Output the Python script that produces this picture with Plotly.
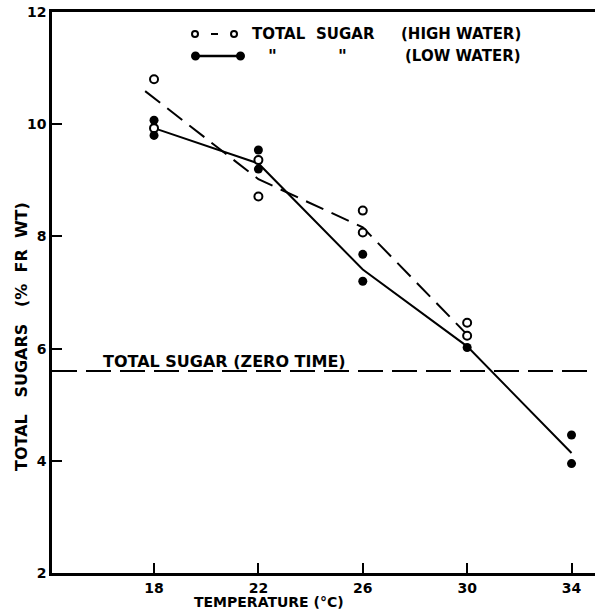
import plotly.graph_objects as go

# ---------------- data ----------------
high_temp = [18, 18, 22, 22, 26, 26, 30, 30]
high_sugar = [10.80, 9.93, 9.36, 8.71, 8.46, 8.07, 6.46, 6.23]

low_temp = [18, 18, 22, 22, 26, 26, 30, 34, 34]
low_sugar = [10.07, 9.80, 9.54, 9.20, 7.68, 7.20, 6.02, 4.46, 3.95]

high_line_temp = [17.66, 22, 26, 30]
high_line_sugar = [10.59, 9.02, 8.16, 6.25]

low_line_temp = [18, 22, 26, 30, 34]
low_line_sugar = [9.93, 9.30, 7.41, 6.04, 4.14]

zero_time_sugar = 5.6

x_ticks = [18, 22, 26, 30, 34]
y_ticks = [2, 4, 6, 8, 10, 12]
x_range = [14.09, 34.9]
y_range = [2, 12]

# ---------------- layout helpers ----------------
W, H = 595, 611
L, R, T, B = 52, 595, 12, 573
FONT = "DejaVu Sans"


def px(x):
    return (x - L) / (R - L)


def py(y):
    return (B - y) / (B - T)


fig = go.Figure()

fig.add_trace(go.Scatter(
    x=high_line_temp, y=high_line_sugar, mode="lines",
    line=dict(color="black", width=2, dash="19px,9px"),
    hoverinfo="skip", showlegend=False))

fig.add_trace(go.Scatter(
    x=low_line_temp, y=low_line_sugar, mode="lines",
    line=dict(color="black", width=2),
    hoverinfo="skip", showlegend=False))

fig.add_trace(go.Scatter(
    x=high_temp, y=high_sugar, mode="markers",
    marker=dict(symbol="circle", size=8, color="white",
                line=dict(color="black", width=2)),
    showlegend=False))

fig.add_trace(go.Scatter(
    x=low_temp, y=low_sugar, mode="markers",
    marker=dict(symbol="circle", size=9, color="black",
                line=dict(color="black", width=0)),
    showlegend=False))

shapes = [
    # zero time reference line
    dict(type="line", xref="paper", yref="y", x0=0, x1=1,
         y0=zero_time_sugar, y1=zero_time_sugar,
         line=dict(color="black", width=2, dash="25px,9px")),
    # legend symbol row 1: o - o
    dict(type="circle", xref="paper", yref="paper",
         x0=px(192), x1=px(198), y0=py(37), y1=py(31),
         line=dict(color="black", width=2), fillcolor="white"),
    dict(type="line", xref="paper", yref="paper",
         x0=px(211), x1=px(218), y0=py(34), y1=py(34),
         line=dict(color="black", width=2)),
    dict(type="circle", xref="paper", yref="paper",
         x0=px(231), x1=px(237), y0=py(37), y1=py(31),
         line=dict(color="black", width=2), fillcolor="white"),
    # legend symbol row 2: filled dots joined by line
    dict(type="line", xref="paper", yref="paper",
         x0=px(196), x1=px(240), y0=py(56), y1=py(56),
         line=dict(color="black", width=2.5)),
    dict(type="circle", xref="paper", yref="paper",
         x0=px(191), x1=px(200), y0=py(60.5), y1=py(51.5),
         line=dict(color="black", width=0), fillcolor="black"),
    dict(type="circle", xref="paper", yref="paper",
         x0=px(236), x1=px(245), y0=py(60.5), y1=py(51.5),
         line=dict(color="black", width=0), fillcolor="black"),
]


def ann(text, x, y, xanchor="center", yanchor="middle", size=15, angle=0):
    return dict(text=text, x=px(x), y=py(y), xref="paper", yref="paper",
                xanchor=xanchor, yanchor=yanchor, showarrow=False,
                textangle=angle, borderpad=0,
                font=dict(family=FONT, size=size, color="black", weight="bold"))


annotations = [
    ann("TOTAL", 251, 34, xanchor="left"),
    ann("SUGAR", 345, 34),
    ann("(HIGH WATER)", 522, 34, xanchor="right"),
    ann("\"", 272, 56, size=17),
    ann("\"", 342, 56, size=17),
    ann("(LOW WATER)", 522, 56, xanchor="right"),
    ann("TOTAL SUGAR (ZERO TIME)", 102, 361, xanchor="left", size=16),
    ann("TOTAL   SUGARS   (%  FR  WT)", 21, 337, size=16, angle=-90),
    ann("TEMPERATURE (°C)", 269, 611, yanchor="bottom", size=14),
]

tickfont = dict(family=FONT, size=14, color="black", weight="bold")

fig.update_layout(
    width=W, height=H,
    margin=dict(l=L, r=W - R, t=T, b=H - B),
    paper_bgcolor="white", plot_bgcolor="white",
    shapes=shapes, annotations=annotations,
    showlegend=False,
    xaxis=dict(range=x_range, tickvals=x_ticks, ticktext=[str(v) for v in x_ticks],
               showgrid=False, zeroline=False, showline=True, linecolor="black",
               linewidth=2.5, mirror=True, ticks="inside", ticklen=10,
               tickwidth=2, tickcolor="black", tickfont=tickfont),
    yaxis=dict(range=y_range, tickvals=y_ticks, ticktext=[str(v) for v in y_ticks],
               showgrid=False, zeroline=False, showline=True, linecolor="black",
               linewidth=2.5, ticks="inside", ticklen=10,
               tickwidth=2, tickcolor="black", tickfont=tickfont),
)

fig.write_html("out.html")
